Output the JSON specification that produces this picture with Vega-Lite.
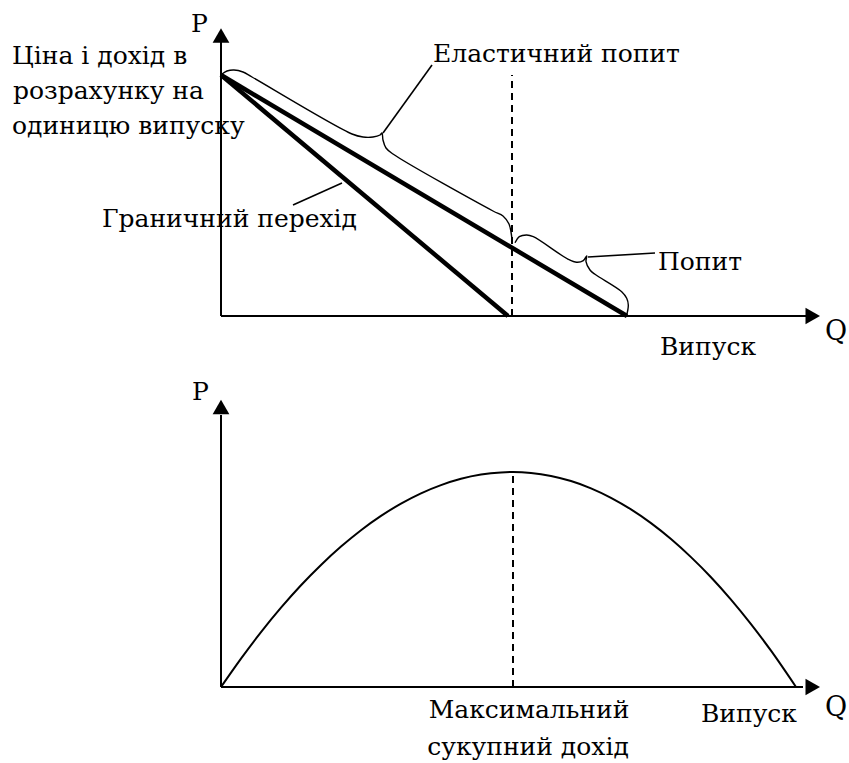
{
  "$schema": "https://vega.github.io/schema/vega-lite/v6.json",
  "width": 849,
  "height": 763,
  "autosize": {"type": "fit", "contains": "padding"},
  "padding": 0,
  "background": "white",
  "config": {"view": {"stroke": null}, "text": {"font": "DejaVu Serif", "color": "black", "baseline": "alphabetic"}},
  "datasets": {
    "top": [
      {"kind": "axis", "g": "yaxis", "i": 0, "q": 0, "p": 0},
      {"kind": "axis", "g": "yaxis", "i": 1, "q": 0, "p": 276},
      {"kind": "axis", "g": "xaxis", "i": 0, "q": 0, "p": 0},
      {"kind": "axis", "g": "xaxis", "i": 1, "q": 590, "p": 0},
      {"kind": "arrow", "dir": "up", "q": 0, "p": 280.5},
      {"kind": "arrow", "dir": "right", "q": 591.75, "p": 0},
      {"kind": "curve", "g": "demand", "i": 0, "q": 0, "p": 241},
      {"kind": "curve", "g": "demand", "i": 1, "q": 406, "p": 0},
      {"kind": "curve", "g": "mr", "i": 0, "q": 0, "p": 241},
      {"kind": "curve", "g": "mr", "i": 1, "q": 287, "p": 0},
      {"kind": "dash", "g": "d", "i": 0, "q": 291, "p": 0},
      {"kind": "dash", "g": "d", "i": 1, "q": 291, "p": 241},
      {"kind": "brace", "g": "b1", "i": 0, "q": 1, "p": 242},
      {"kind": "brace", "g": "b1", "i": 1, "q": 6, "p": 245},
      {"kind": "brace", "g": "b1", "i": 2, "q": 13, "p": 246},
      {"kind": "brace", "g": "b1", "i": 3, "q": 22, "p": 244},
      {"kind": "brace", "g": "b1", "i": 4, "q": 31, "p": 239},
      {"kind": "brace", "g": "b1", "i": 5, "q": 131, "p": 182},
      {"kind": "brace", "g": "b1", "i": 6, "q": 142, "p": 179},
      {"kind": "brace", "g": "b1", "i": 7, "q": 152, "p": 179},
      {"kind": "brace", "g": "b1", "i": 8, "q": 159, "p": 181},
      {"kind": "brace", "g": "b1", "i": 9, "q": 161, "p": 183},
      {"kind": "brace", "g": "b1", "i": 10, "q": 162, "p": 176},
      {"kind": "brace", "g": "b1", "i": 11, "q": 165, "p": 168},
      {"kind": "brace", "g": "b1", "i": 12, "q": 172, "p": 162},
      {"kind": "brace", "g": "b1", "i": 13, "q": 272, "p": 105},
      {"kind": "brace", "g": "b1", "i": 14, "q": 282, "p": 100},
      {"kind": "brace", "g": "b1", "i": 15, "q": 288, "p": 92},
      {"kind": "brace", "g": "b1", "i": 16, "q": 290, "p": 84},
      {"kind": "brace", "g": "b1", "i": 17, "q": 291, "p": 76},
      {"kind": "brace", "g": "b2", "i": 0, "q": 294, "p": 73.3},
      {"kind": "brace", "g": "b2", "i": 1, "q": 298.3, "p": 79.3},
      {"kind": "brace", "g": "b2", "i": 2, "q": 305.7, "p": 81},
      {"kind": "brace", "g": "b2", "i": 3, "q": 312.3, "p": 79.3},
      {"kind": "brace", "g": "b2", "i": 4, "q": 347.3, "p": 56.7},
      {"kind": "brace", "g": "b2", "i": 5, "q": 355.7, "p": 53.7},
      {"kind": "brace", "g": "b2", "i": 6, "q": 362.3, "p": 55.3},
      {"kind": "brace", "g": "b2", "i": 7, "q": 365.7, "p": 60},
      {"kind": "brace", "g": "b2", "i": 8, "q": 365, "p": 54.3},
      {"kind": "brace", "g": "b2", "i": 9, "q": 369, "p": 46},
      {"kind": "brace", "g": "b2", "i": 10, "q": 374, "p": 41.7},
      {"kind": "brace", "g": "b2", "i": 11, "q": 400.7, "p": 24.3},
      {"kind": "brace", "g": "b2", "i": 12, "q": 405.7, "p": 17.7},
      {"kind": "brace", "g": "b2", "i": 13, "q": 407.3, "p": 11},
      {"kind": "brace", "g": "b2", "i": 14, "q": 405.7, "p": 1},
      {"kind": "leader", "g": "l1", "i": 0, "q": 162, "p": 183},
      {"kind": "leader", "g": "l1", "i": 1, "q": 211, "p": 251},
      {"kind": "leader", "g": "l2", "i": 0, "q": 72, "p": 111},
      {"kind": "leader", "g": "l2", "i": 1, "q": 121, "p": 133},
      {"kind": "leader", "g": "l3", "i": 0, "q": 367, "p": 59},
      {"kind": "leader", "g": "l3", "i": 1, "q": 434, "p": 63},
      {"kind": "label", "text": "Ціна і дохід в", "q": -209, "p": 252},
      {"kind": "label", "text": "розрахунку на", "q": -208, "p": 217},
      {"kind": "label", "text": "одиницю випуску", "q": -209, "p": 182},
      {"kind": "label", "text": "Еластичний попит", "q": 212, "p": 254},
      {"kind": "label", "text": "Граничний перехід", "q": -119, "p": 89},
      {"kind": "label", "text": "Попит", "q": 437, "p": 46},
      {"kind": "label", "text": "Випуск", "q": 439, "p": -39},
      {"kind": "qlabel", "text": "Q", "q": 604, "p": -24},
      {"kind": "axislabel", "text": "P", "q": -30, "p": 284}
    ],
    "bottom": [
      {"kind": "axis", "g": "yaxis", "i": 0, "q": 0, "p": 0},
      {"kind": "axis", "g": "yaxis", "i": 1, "q": 0, "p": 272},
      {"kind": "axis", "g": "xaxis", "i": 0, "q": 0, "p": 0},
      {"kind": "axis", "g": "xaxis", "i": 1, "q": 582, "p": 0},
      {"kind": "arrow", "dir": "up", "q": 0, "p": 280},
      {"kind": "arrow", "dir": "right", "q": 591.75, "p": 0},
      {"kind": "curve", "g": "tr", "i": 0, "q": 0, "p": 0},
      {"kind": "curve", "g": "tr", "i": 1, "q": 20, "p": 28.4},
      {"kind": "curve", "g": "tr", "i": 2, "q": 40, "p": 54.9},
      {"kind": "curve", "g": "tr", "i": 3, "q": 60, "p": 79.3},
      {"kind": "curve", "g": "tr", "i": 4, "q": 80, "p": 101.7},
      {"kind": "curve", "g": "tr", "i": 5, "q": 100, "p": 122.0},
      {"kind": "curve", "g": "tr", "i": 6, "q": 120, "p": 140.4},
      {"kind": "curve", "g": "tr", "i": 7, "q": 140, "p": 156.8},
      {"kind": "curve", "g": "tr", "i": 8, "q": 160, "p": 171.1},
      {"kind": "curve", "g": "tr", "i": 9, "q": 180, "p": 183.4},
      {"kind": "curve", "g": "tr", "i": 10, "q": 200, "p": 193.7},
      {"kind": "curve", "g": "tr", "i": 11, "q": 220, "p": 201.9},
      {"kind": "curve", "g": "tr", "i": 12, "q": 240, "p": 208.2},
      {"kind": "curve", "g": "tr", "i": 13, "q": 260, "p": 212.4},
      {"kind": "curve", "g": "tr", "i": 14, "q": 280, "p": 214.6},
      {"kind": "curve", "g": "tr", "i": 15, "q": 292, "p": 215},
      {"kind": "curve", "g": "tr", "i": 16, "q": 310, "p": 214.1},
      {"kind": "curve", "g": "tr", "i": 17, "q": 330, "p": 211.1},
      {"kind": "curve", "g": "tr", "i": 18, "q": 350, "p": 206.0},
      {"kind": "curve", "g": "tr", "i": 19, "q": 370, "p": 198.7},
      {"kind": "curve", "g": "tr", "i": 20, "q": 390, "p": 189.2},
      {"kind": "curve", "g": "tr", "i": 21, "q": 410, "p": 177.6},
      {"kind": "curve", "g": "tr", "i": 22, "q": 430, "p": 163.9},
      {"kind": "curve", "g": "tr", "i": 23, "q": 450, "p": 148.0},
      {"kind": "curve", "g": "tr", "i": 24, "q": 470, "p": 129.9},
      {"kind": "curve", "g": "tr", "i": 25, "q": 490, "p": 109.8},
      {"kind": "curve", "g": "tr", "i": 26, "q": 510, "p": 87.4},
      {"kind": "curve", "g": "tr", "i": 27, "q": 530, "p": 62.9},
      {"kind": "curve", "g": "tr", "i": 28, "q": 550, "p": 36.3},
      {"kind": "curve", "g": "tr", "i": 29, "q": 575, "p": 0},
      {"kind": "dash", "g": "d", "i": 0, "q": 292, "p": 0},
      {"kind": "dash", "g": "d", "i": 1, "q": 292, "p": 215},
      {"kind": "axislabel", "text": "P", "q": -29, "p": 287},
      {"kind": "qlabel", "text": "Q", "q": 604, "p": -29},
      {"kind": "labelR", "text": "Випуск", "q": 576, "p": -35},
      {"kind": "labelC", "text": "Максимальний", "q": 308, "p": -31},
      {"kind": "labelC", "text": "сукупний дохід", "q": 307, "p": -68}
    ]
  },
  "resolve": {"scale": {"y": "independent"}},
  "layer": [
    {
      "data": {"name": "top"},
      "encoding": {
        "x": {"field": "q", "type": "quantitative", "scale": {"domain": [-221, 628], "nice": false, "zero": false}, "axis": null},
        "y": {"field": "p", "type": "quantitative", "scale": {"domain": [-447, 316], "nice": false, "zero": false}, "axis": null}
      },
      "layer": [
        {"transform": [{"filter": "datum.kind === 'axis'"}], "mark": {"type": "line", "color": "black", "strokeWidth": 2}, "encoding": {"detail": {"field": "g"}, "order": {"field": "i"}}},
        {"transform": [{"filter": "datum.kind === 'curve'"}], "mark": {"type": "line", "color": "black", "strokeWidth": 4.5, "strokeCap": "butt"}, "encoding": {"detail": {"field": "g"}, "order": {"field": "i"}}},
        {"transform": [{"filter": "datum.kind === 'dash'"}], "mark": {"type": "line", "color": "black", "strokeWidth": 2, "strokeDash": [7, 5]}, "encoding": {"detail": {"field": "g"}, "order": {"field": "i"}}},
        {"transform": [{"filter": "datum.kind === 'brace'"}], "mark": {"type": "line", "color": "black", "strokeWidth": 1.4, "interpolate": "catmull-rom"}, "encoding": {"detail": {"field": "g"}, "order": {"field": "i"}}},
        {"transform": [{"filter": "datum.kind === 'leader'"}], "mark": {"type": "line", "color": "black", "strokeWidth": 1.6}, "encoding": {"detail": {"field": "g"}, "order": {"field": "i"}}},
        {"transform": [{"filter": "datum.kind === 'arrow'"}], "mark": {"type": "point", "filled": true, "color": "black", "opacity": 1, "size": 280, "strokeWidth": 0}, "encoding": {"shape": {"field": "dir", "type": "nominal", "scale": {"domain": ["up", "right"], "range": ["triangle-up", "triangle-right"]}, "legend": null}}},
        {"transform": [{"filter": "datum.kind === 'label'"}], "mark": {"type": "text", "font": "DejaVu Serif", "align": "left", "baseline": "alphabetic", "fontSize": 25, "color": "black"}, "encoding": {"text": {"field": "text"}}},
        {"transform": [{"filter": "datum.kind === 'qlabel'"}], "mark": {"type": "text", "font": "DejaVu Serif", "align": "left", "baseline": "alphabetic", "fontSize": 27, "color": "black"}, "encoding": {"text": {"field": "text"}}},
        {"transform": [{"filter": "datum.kind === 'axislabel'"}], "mark": {"type": "text", "font": "DejaVu Serif", "align": "left", "baseline": "alphabetic", "fontSize": 25, "color": "black"}, "encoding": {"text": {"field": "text"}}}
      ]
    },
    {
      "data": {"name": "bottom"},
      "encoding": {
        "x": {"field": "q", "type": "quantitative", "scale": {"domain": [-221, 628], "nice": false, "zero": false}, "axis": null},
        "y": {"field": "p", "type": "quantitative", "scale": {"domain": [-76, 687], "nice": false, "zero": false}, "axis": null}
      },
      "layer": [
        {"transform": [{"filter": "datum.kind === 'axis'"}], "mark": {"type": "line", "color": "black", "strokeWidth": 2}, "encoding": {"detail": {"field": "g"}, "order": {"field": "i"}}},
        {"transform": [{"filter": "datum.kind === 'curve'"}], "mark": {"type": "line", "color": "black", "strokeWidth": 2, "interpolate": "monotone"}, "encoding": {"detail": {"field": "g"}, "order": {"field": "i"}}},
        {"transform": [{"filter": "datum.kind === 'dash'"}], "mark": {"type": "line", "color": "black", "strokeWidth": 2, "strokeDash": [7, 5]}, "encoding": {"detail": {"field": "g"}, "order": {"field": "i"}}},
        {"transform": [{"filter": "datum.kind === 'arrow'"}], "mark": {"type": "point", "filled": true, "color": "black", "opacity": 1, "size": 280, "strokeWidth": 0}, "encoding": {"shape": {"field": "dir", "type": "nominal", "scale": {"domain": ["up", "right"], "range": ["triangle-up", "triangle-right"]}, "legend": null}}},
        {"transform": [{"filter": "datum.kind === 'qlabel'"}], "mark": {"type": "text", "font": "DejaVu Serif", "align": "left", "baseline": "alphabetic", "fontSize": 27, "color": "black"}, "encoding": {"text": {"field": "text"}}},
        {"transform": [{"filter": "datum.kind === 'labelR'"}], "mark": {"type": "text", "font": "DejaVu Serif", "align": "right", "baseline": "alphabetic", "fontSize": 25, "color": "black"}, "encoding": {"text": {"field": "text"}}},
        {"transform": [{"filter": "datum.kind === 'labelC'"}], "mark": {"type": "text", "font": "DejaVu Serif", "align": "center", "baseline": "alphabetic", "fontSize": 25, "color": "black"}, "encoding": {"text": {"field": "text"}}},
        {"transform": [{"filter": "datum.kind === 'axislabel'"}], "mark": {"type": "text", "font": "DejaVu Serif", "align": "left", "baseline": "alphabetic", "fontSize": 25, "color": "black"}, "encoding": {"text": {"field": "text"}}}
      ]
    }
  ]
}
